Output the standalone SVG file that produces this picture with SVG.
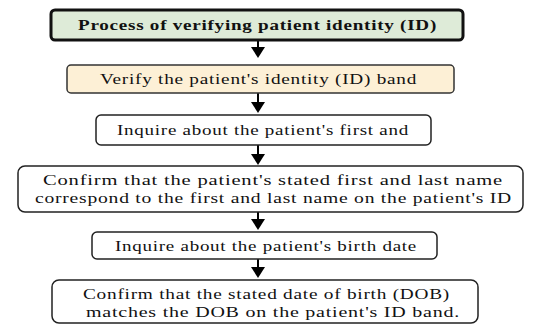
<svg xmlns="http://www.w3.org/2000/svg" width="541" height="325" viewBox="0 0 541 325">
<style>
.box{fill:#fff;stroke:#222;stroke-width:1.5}
text{font-family:'Liberation Serif','DejaVu Serif',serif;font-size:15.5px;letter-spacing:0.6px;fill:#111;text-anchor:middle}
.b{font-weight:bold}
.c{stroke:#000;stroke-width:2;fill:none}
</style>
<rect width="541" height="325" fill="#fff"/>
<g id="connectors">
<line class="c" x1="258" y1="40" x2="258" y2="48"/><path d="M251,47 L265,47 L258,58 Z"/>
<line class="c" x1="258" y1="93" x2="258" y2="103"/><path d="M251,102 L265,102 L258,113 Z"/>
<line class="c" x1="258" y1="145" x2="258" y2="155"/><path d="M251,154 L265,154 L258,165 Z"/>
<line class="c" x1="258" y1="212" x2="258" y2="220"/><path d="M251,219 L265,219 L258,230 Z"/>
<line class="c" x1="258" y1="259" x2="258" y2="268"/><path d="M251,267 L265,267 L258,278 Z"/>
</g>
<g id="n1">
<rect x="51" y="10" width="412" height="30" rx="4" fill="#deebd8" stroke="#111" stroke-width="3"/>
<text class="b" x="257.5" y="30" textLength="359" lengthAdjust="spacingAndGlyphs">Process of verifying patient identity (ID)</text>
</g>
<g id="n2">
<rect x="67" y="65" width="387" height="28" rx="4" fill="#fdf0d6" stroke="#333" stroke-width="1.5"/>
<text x="258.5" y="84" textLength="317" lengthAdjust="spacingAndGlyphs">Verify the patient's identity (ID) band</text>
</g>
<g id="n3">
<rect class="box" x="96" y="115" width="335" height="30" rx="5"/>
<text x="263" y="135" textLength="292" lengthAdjust="spacingAndGlyphs">Inquire about the patient's first and</text>
</g>
<g id="n4">
<rect class="box" x="18" y="166" width="505" height="46" rx="7"/>
<text x="273" y="185" textLength="460" lengthAdjust="spacingAndGlyphs">Confirm that the patient's stated first and last name</text>
<text x="273.5" y="203" textLength="477" lengthAdjust="spacingAndGlyphs">correspond to the first and last name on the patient's ID</text>
</g>
<g id="n5">
<rect class="box" x="92" y="232" width="345" height="27" rx="5"/>
<text x="266" y="251" textLength="302" lengthAdjust="spacingAndGlyphs">Inquire about the patient's birth date</text>
</g>
<g id="n6">
<rect class="box" x="52" y="280" width="426" height="43" rx="7"/>
<text x="266.5" y="299" textLength="367" lengthAdjust="spacingAndGlyphs">Confirm that the stated date of birth (DOB)</text>
<text x="273" y="317" textLength="374" lengthAdjust="spacingAndGlyphs">matches the DOB on the patient's ID band.</text>
</g>
</svg>
